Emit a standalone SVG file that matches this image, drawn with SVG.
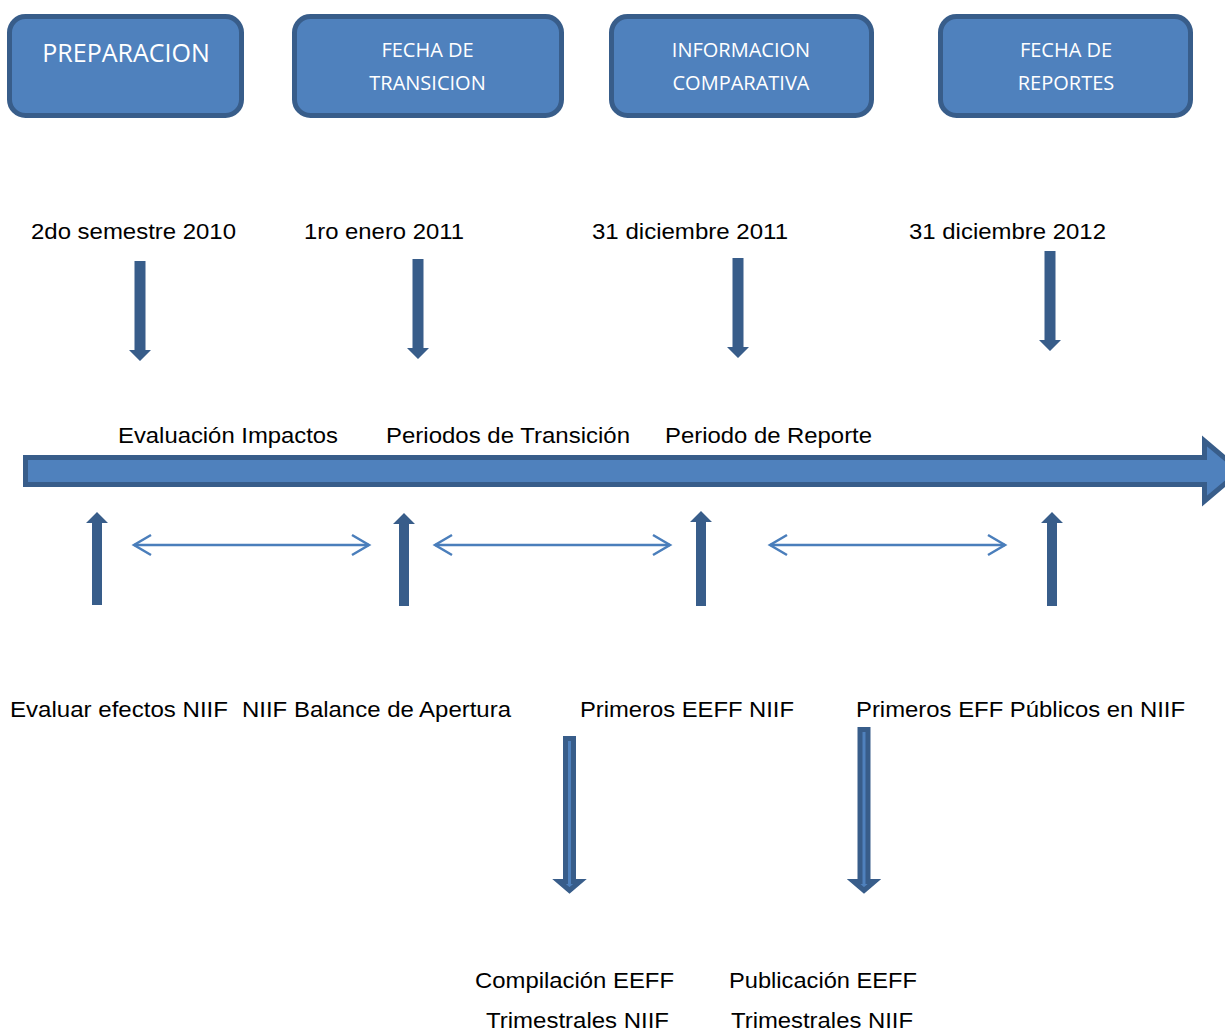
<svg xmlns="http://www.w3.org/2000/svg" width="1225" height="1031" viewBox="0 0 1225 1031">
<style>
.box{fill:#4f81bd;stroke:#385d8a;stroke-width:5}
.bt{font-family:"Open Sans",sans-serif;fill:#ffffff;text-anchor:middle}
.t{font-family:"Liberation Sans",Arial,sans-serif;font-size:22px;fill:#000000;text-anchor:start}
.solid{fill:#385d8a}
.hollow{fill:#4f81bd;stroke:#385d8a;stroke-width:5;stroke-linejoin:miter}
.thin{fill:none;stroke:#4a7ebb;stroke-width:2.5}
</style>
<rect width="1225" height="1031" fill="#ffffff"/>
<g id="node-preparacion">
<rect class="box" x="9.5" y="16.5" width="232" height="99" rx="16"/>
<text class="bt" x="126" y="62" font-size="25">PREPARACION</text>
</g>
<g id="node-fecha-transicion">
<rect class="box" x="294.5" y="16.5" width="267" height="99" rx="16"/>
<text class="bt" x="427.5" y="57" font-size="20">FECHA DE</text>
<text class="bt" x="427.5" y="90" font-size="20">TRANSICION</text>
</g>
<g id="node-informacion-comparativa">
<rect class="box" x="611.5" y="16.5" width="260" height="99" rx="16"/>
<text class="bt" x="741" y="57" font-size="20">INFORMACION</text>
<text class="bt" x="741" y="90" font-size="20">COMPARATIVA</text>
</g>
<g id="node-fecha-reportes">
<rect class="box" x="940.5" y="16.5" width="250" height="99" rx="16"/>
<text class="bt" x="1066" y="57" font-size="20">FECHA DE</text>
<text class="bt" x="1066" y="90" font-size="20">REPORTES</text>
</g>
<g id="timeline">
<polygon class="hollow" points="25.5,457.5 1204.5,457.5 1204.5,441 1240,471 1204.5,501 1204.5,484.5 25.5,484.5"/>
</g>
<g id="labels">
<text class="t" x="31" y="239" textLength="205" lengthAdjust="spacingAndGlyphs">2do semestre 2010</text>
<text class="t" x="304" y="239" textLength="160" lengthAdjust="spacingAndGlyphs">1ro enero 2011</text>
<text class="t" x="592" y="239" textLength="196" lengthAdjust="spacingAndGlyphs">31 diciembre 2011</text>
<text class="t" x="909" y="239" textLength="197" lengthAdjust="spacingAndGlyphs">31 diciembre 2012</text>
<text class="t" x="118" y="443" textLength="220" lengthAdjust="spacingAndGlyphs">Evaluación Impactos</text>
<text class="t" x="386" y="443" textLength="244" lengthAdjust="spacingAndGlyphs">Periodos de Transición</text>
<text class="t" x="665" y="443" textLength="207" lengthAdjust="spacingAndGlyphs">Periodo de Reporte</text>
<text class="t" x="10" y="717" textLength="218" lengthAdjust="spacingAndGlyphs">Evaluar efectos NIIF</text>
<text class="t" x="242" y="717" textLength="269" lengthAdjust="spacingAndGlyphs">NIIF Balance de Apertura</text>
<text class="t" x="580" y="717" textLength="214" lengthAdjust="spacingAndGlyphs">Primeros EEFF NIIF</text>
<text class="t" x="856" y="717" textLength="329" lengthAdjust="spacingAndGlyphs">Primeros EFF Públicos en NIIF</text>
<text class="t" x="475" y="988" textLength="199" lengthAdjust="spacingAndGlyphs">Compilación EEFF</text>
<text class="t" x="486" y="1028" textLength="183" lengthAdjust="spacingAndGlyphs">Trimestrales NIIF</text>
<text class="t" x="729" y="988" textLength="188" lengthAdjust="spacingAndGlyphs">Publicación EEFF</text>
<text class="t" x="731" y="1028" textLength="182" lengthAdjust="spacingAndGlyphs">Trimestrales NIIF</text>
</g>
<g id="connectors">
<polygon class="solid" points="134.5,261 145.5,261 145.5,350 151,350 140,361 129,350 134.5,350"/>
<polygon class="solid" points="412.5,259 423.5,259 423.5,348 429,348 418,359 407,348 412.5,348"/>
<polygon class="solid" points="732.5,258 743.5,258 743.5,347 749,347 738,358 727,347 732.5,347"/>
<polygon class="solid" points="1044.5,251 1055.5,251 1055.5,340 1061,340 1050,351 1039,340 1044.5,340"/>
<polygon class="solid" points="92,605 102,605 102,523 108,523 97,512 86,523 92,523"/>
<polygon class="solid" points="399,606 409,606 409,524 415,524 404,513 393,524 399,524"/>
<polygon class="solid" points="696,606 706,606 706,522 712,522 701,511 690,522 696,522"/>
<polygon class="solid" points="1047,606 1057,606 1057,523 1063,523 1052,512 1041,523 1047,523"/>
<polygon class="hollow" points="565.5,738.5 573.5,738.5 573.5,881.5 580,881.5 569.5,890.5 559,881.5 565.5,881.5"/>
<polygon class="hollow" points="860,729.5 868,729.5 868,881.5 874.5,881.5 864,890.5 853.5,881.5 860,881.5"/>
<g class="thin">
<line x1="134" y1="545" x2="369" y2="545"/>
<polyline points="151,535 134,545 151,555"/>
<polyline points="352,535 369,545 352,555"/>
<line x1="435" y1="545" x2="670" y2="545"/>
<polyline points="452,535 435,545 452,555"/>
<polyline points="653,535 670,545 653,555"/>
<line x1="770" y1="545" x2="1005" y2="545"/>
<polyline points="787,535 770,545 787,555"/>
<polyline points="988,535 1005,545 988,555"/>
</g>
</g>
</svg>
